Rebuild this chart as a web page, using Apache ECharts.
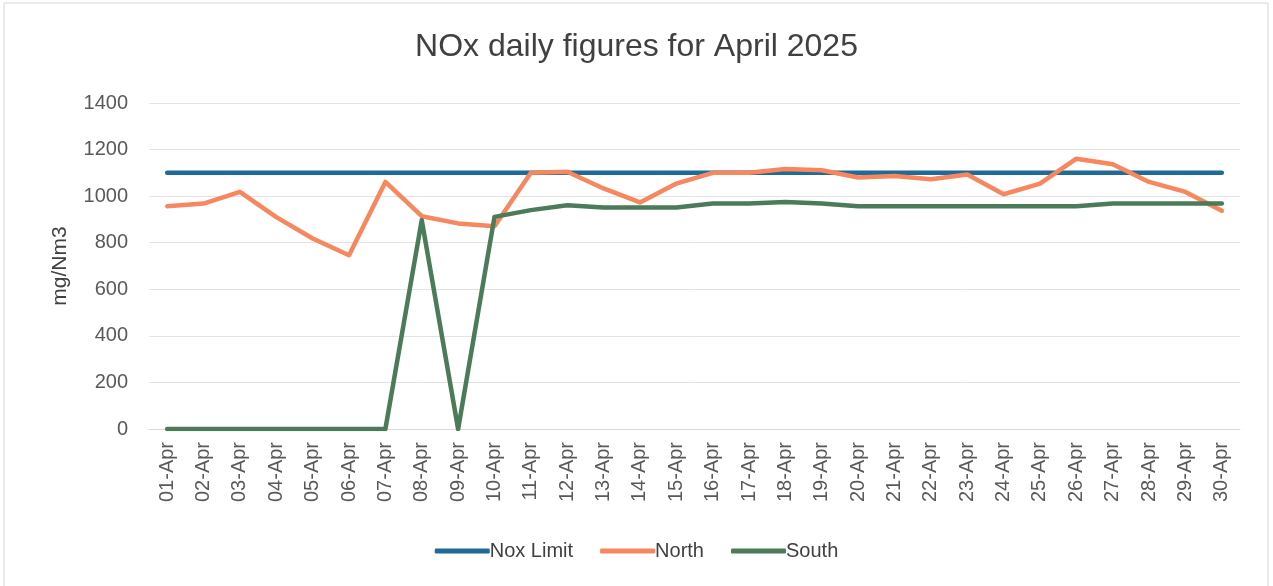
<!DOCTYPE html>
<html>
<head>
<meta charset="utf-8">
<script src="https://cdn.jsdelivr.net/npm/echarts@6/dist/echarts.min.js"></script>
<style>
  html, body { margin: 0; padding: 0; background: #fff; }
  #main { width: 1273px; height: 586px; }
</style>
</head>
<body>
<div id="main"></div>
<script>
var days = ['01-Apr','02-Apr','03-Apr','04-Apr','05-Apr','06-Apr','07-Apr','08-Apr','09-Apr','10-Apr',
            '11-Apr','12-Apr','13-Apr','14-Apr','15-Apr','16-Apr','17-Apr','18-Apr','19-Apr','20-Apr',
            '21-Apr','22-Apr','23-Apr','24-Apr','25-Apr','26-Apr','27-Apr','28-Apr','29-Apr','30-Apr'];

var noxLimit = [1100,1100,1100,1100,1100,1100,1100,1100,1100,1100,
                1100,1100,1100,1100,1100,1100,1100,1100,1100,1100,
                1100,1100,1100,1100,1100,1100,1100,1100,1100,1100];

var north = [957,968,1018,910,818,746,1061,914,883,871,
             1100,1105,1033,973,1054,1100,1100,1117,1111,1080,
             1086,1073,1093,1008,1054,1161,1137,1061,1018,937];

var south = [0,0,0,0,0,0,0,897,0,911,
             940,961,951,951,951,968,968,975,968,957,
             957,957,957,957,957,957,968,968,968,968];

var yTicks = { min: 0, max: 1400, interval: 200 };

var chart = echarts.init(document.getElementById('main'));

var lineSeries = function(name, data, color) {
    return {
        name: name,
        type: 'line',
        data: data,
        symbol: 'none',
        lineStyle: { width: 4.5, color: color, cap: 'round', join: 'round' },
        itemStyle: { color: color }
    };
};

var option = {
    animation: false,
    backgroundColor: '#fff',
    graphic: [{
        type: 'rect',
        shape: { x: 4, y: 3, width: 1264, height: 600 },
        style: { fill: 'none', stroke: '#d6d6d6', lineWidth: 1 }
    }],
    title: {
        text: 'NOx daily figures for April 2025',
        left: 'center',
        top: 26,
        textStyle: {
            fontFamily: 'Liberation Sans, Arial, sans-serif',
            fontSize: 32,
            fontWeight: 'normal',
            color: '#404040'
        }
    },
    legend: {
        top: 536,
        left: 'center',
        itemWidth: 55,
        itemHeight: 5,
        itemGap: 27,
        icon: 'roundRect',
        textStyle: { fontFamily: 'Liberation Sans, Arial, sans-serif', fontSize: 20, color: '#404040', padding: [0, 0, 0, -5] },
        data: ['Nox Limit', 'North', 'South']
    },
    grid: { left: 149, right: 33, top: 103, bottom: 157, containLabel: false },
    xAxis: {
        type: 'category',
        data: days,
        boundaryGap: true,
        axisTick: { show: false },
        axisLine: { show: true, lineStyle: { color: '#d9d9d9' } },
        axisLabel: {
            rotate: 90,
            interval: 0,
            margin: 13,
            fontFamily: 'Liberation Sans, Arial, sans-serif',
            fontSize: 20,
            color: '#595959'
        }
    },
    yAxis: {
        type: 'value',
        min: yTicks.min,
        max: yTicks.max,
        interval: yTicks.interval,
        name: 'mg/Nm3',
        nameLocation: 'middle',
        nameGap: 78,
        nameRotate: 90,
        nameTextStyle: { fontFamily: 'Liberation Sans, Arial, sans-serif', fontSize: 21, color: '#404040' },
        axisLine: { show: false },
        axisTick: { show: false },
        splitLine: { lineStyle: { color: '#e3e3e3', width: 1 } },
        axisLabel: {
            margin: 21,
            formatter: function(v) { return String(v); },
            fontFamily: 'Liberation Sans, Arial, sans-serif',
            fontSize: 20,
            color: '#595959'
        }
    },
    series: [
        lineSeries('Nox Limit', noxLimit, '#1f6a96'),
        lineSeries('North', north, '#f7875f'),
        lineSeries('South', south, '#4b7b58')
    ]
};

chart.setOption(option);
</script>
</body>
</html>
